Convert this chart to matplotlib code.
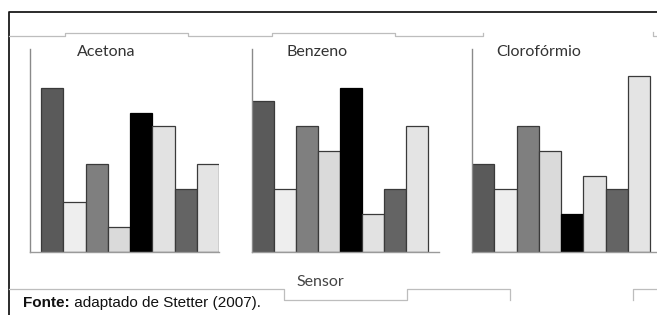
import matplotlib
matplotlib.use("Agg")
import matplotlib.pyplot as plt

# ---- data ----
panels = ["Acetona", "Benzeno", "Clorofórmio"]
sensors = ["S1", "S2", "S3", "S4", "S5", "S6", "S7", "S8"]
acetona = [13, 4, 7, 2, 11, 10, 5, 7]
benzeno = [12, 5, 10, 8, 13, 3, 5, 10]
cloroformio = [7, 5, 10, 8, 3, 6, 5, 14]
values = [acetona, benzeno, cloroformio]
bar_colors = ["#5a5a5a", "#eeeeee", "#7f7f7f", "#dadada",
              "#000000", "#e2e2e2", "#646464", "#e4e4e4"]
xlabel = "Sensor"
source_bold = "Fonte:"
source_rest = " adaptado de Stetter (2007)."

W, H = 657, 315
fig = plt.figure(figsize=(W / 100, H / 100), dpi=100)
fig.patch.set_facecolor("white")

# overlay in pixel coordinates for frame and decorations
ov = fig.add_axes([0, 0, 1, 1])
ov.set_xlim(0, W)
ov.set_ylim(H, 0)
ov.axis("off")

# frame
ov.plot([9, 9, W], [H, 12, 12], color="#1a1a1a", lw=1.3, solid_capstyle="butt")
# gray stepped lines (document artefacts)
g = "#bdbdbd"
ov.plot([9, 65, 65, 188, 188, 272, 272, 395, 395, 483, 483],
        [36, 36, 33, 33, 36, 36, 33, 33, 36, 36, 33], color=g, lw=0.9)
ov.plot([653, 653, W], [32, 36, 36], color=g, lw=0.9)
ov.plot([9, 284, 284, 407, 407, 510, 510], [289, 289, 300, 300, 289, 289, 300], color=g, lw=0.9)
ov.plot([633, 633, W], [300, 289, 289], color=g, lw=0.9)

# panel geometry in pixels: (axis x, axis right end, first-bar offset, bar width)
geo = [(30, 219, 11, 22.25), (252, 439, 0, 22.0), (472, 657, 0, 22.25)]
base, top = 252, 49
unit = 12.6
title_x = [77, 286, 496]

for vals, name, (x0, x1, off, bw), tx in zip(values, panels, geo, title_x):
    ax = fig.add_axes([x0 / W, 1 - base / H, (x1 - x0) / W, (base - top) / H])
    ax.set_facecolor("none")
    pos = list(range(len(sensors)))
    ax.bar(pos, vals, width=1.0, align="edge", color=bar_colors,
           edgecolor=["#3a3a3a"] * 4 + ["#000000"] + ["#3a3a3a"] * 3, linewidth=0.9)
    ax.set_xlim(-off / bw, (x1 - x0 - off) / bw)
    ax.set_ylim(0, (base - top) / unit)
    for s in ["top", "right"]:
        ax.spines[s].set_visible(False)
    ax.spines["left"].set_color("#8a8a8a")
    ax.spines["bottom"].set_color("#9a9a9a")
    ax.spines["left"].set_linewidth(1.0)
    ax.spines["bottom"].set_linewidth(1.0)
    ax.set_xticks([])
    ax.set_yticks([])
    ov.text(tx, 52, name, fontsize=11.5, family="Lato", color="#333333",
            ha="left", va="center")

ov.text(296, 282, xlabel, fontsize=11.5, family="Lato", color="#444444",
        ha="left", va="center")

t1 = ov.text(23, 303, source_bold, fontsize=11, family="Liberation Sans",
             fontweight="bold", color="#111111", ha="left", va="center")
fig.canvas.draw()
bb = t1.get_window_extent(renderer=fig.canvas.get_renderer())
ov.text(23 + bb.width, 303, source_rest, fontsize=11, family="Liberation Sans",
        color="#111111", ha="left", va="center")

fig.savefig("out.png", dpi=100)
